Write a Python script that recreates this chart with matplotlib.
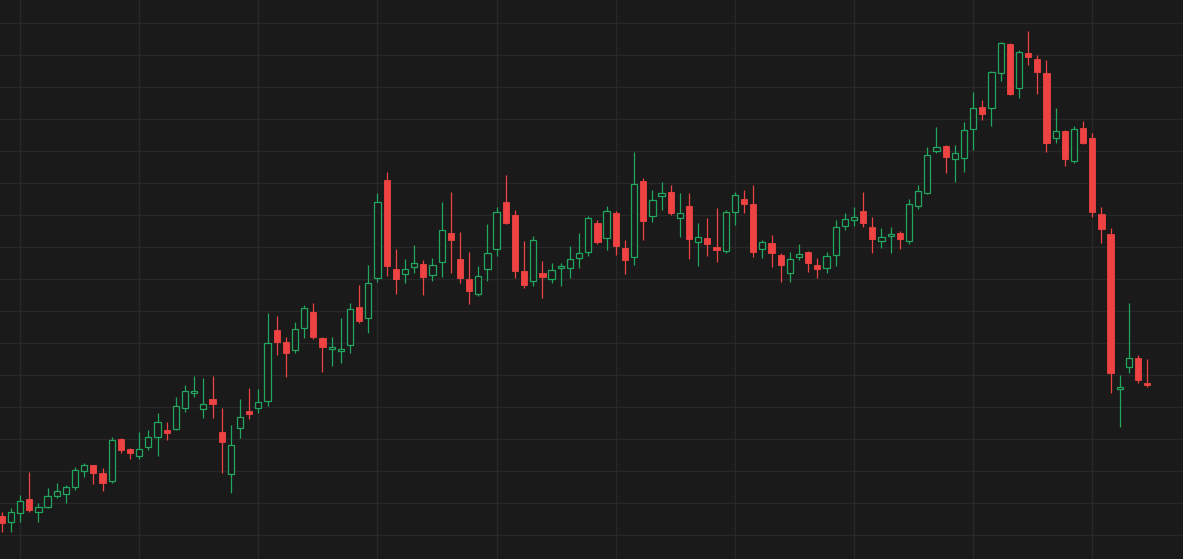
import numpy as np
import matplotlib.pyplot as plt

# OHLC per session (one candle each)
opens = [51, 45, 54, 68, 55, 60, 71, 73, 80, 96, 102, 94, 86, 128, 118, 111, 120, 130, 137, 138,
         159, 174, 158, 168, 135, 93, 139, 156, 159, 166, 237, 225, 217, 239, 255, 229, 218, 216, 222, 260,
         249, 289, 387, 298, 293, 300, 303, 292, 305, 334, 308, 288, 273, 298, 318, 365, 352, 296, 286, 294,
         288, 299, 299, 309, 315, 344, 329, 354, 319, 310, 386, 351, 371, 375, 349, 361, 325, 329, 320, 316,
         355, 368, 363, 318, 324, 312, 294, 310, 315, 302, 299, 312, 341, 347, 356, 340, 326, 331, 334, 326,
         361, 374, 416, 421, 408, 409, 438, 460, 459, 494, 523, 479, 514, 508, 494, 429, 436, 406, 439, 429,
         353, 333, 178, 200, 209, 184]
highs = [55, 59, 72, 95, 64, 79, 84, 82, 100, 104, 102, 99, 130, 129, 119, 135, 137, 154, 145, 170,
         182, 191, 189, 191, 159, 142, 168, 179, 178, 254, 251, 230, 245, 262, 264, 230, 230, 249, 264, 282,
         302, 374, 395, 318, 308, 322, 307, 309, 365, 375, 335, 315, 301, 343, 360, 392, 357, 326, 331, 306,
         304, 304, 321, 334, 351, 347, 361, 356, 327, 415, 389, 377, 385, 382, 374, 374, 344, 349, 359, 357,
         375, 377, 382, 327, 332, 314, 315, 323, 316, 309, 315, 347, 354, 360, 375, 350, 339, 340, 336, 368,
         382, 420, 440, 422, 422, 445, 475, 467, 496, 525, 524, 517, 536, 512, 507, 459, 437, 441, 446, 434,
         360, 339, 192, 264, 212, 208]
lows = [35, 35, 45, 55, 45, 59, 69, 64, 77, 90, 83, 76, 84, 114, 108, 108, 117, 111, 127, 137,
        155, 170, 149, 149, 94, 74, 129, 148, 154, 161, 212, 190, 214, 229, 228, 195, 201, 204, 214, 244,
        234, 285, 291, 273, 284, 294, 272, 286, 290, 294, 284, 263, 271, 286, 311, 343, 289, 279, 281, 269,
        284, 281, 289, 299, 311, 323, 317, 312, 293, 302, 327, 345, 357, 352, 330, 308, 301, 311, 305, 314,
        342, 354, 310, 309, 300, 285, 285, 307, 295, 289, 294, 301, 337, 341, 340, 314, 319, 314, 318, 323,
        358, 373, 414, 394, 385, 395, 417, 447, 441, 486, 472, 469, 502, 473, 415, 424, 401, 404, 423, 350,
        324, 174, 140, 194, 184, 180]
closes = [44, 55, 66, 57, 60, 71, 76, 80, 97, 102, 94, 84, 127, 117, 114, 118, 130, 145, 134, 161,
          176, 176, 163, 163, 125, 122, 150, 153, 165, 224, 225, 214, 238, 259, 230, 220, 220, 218, 258, 246,
          284, 365, 301, 288, 298, 304, 290, 302, 337, 327, 289, 276, 291, 314, 355, 344, 296, 282, 327, 290,
          297, 301, 308, 314, 349, 325, 356, 321, 307, 383, 346, 367, 374, 354, 354, 328, 330, 323, 317, 355,
          372, 363, 315, 325, 314, 302, 308, 313, 304, 298, 311, 340, 348, 350, 344, 328, 330, 333, 328, 363,
          376, 412, 420, 410, 414, 437, 459, 453, 495, 524, 473, 515, 510, 495, 424, 436, 408, 438, 424, 355,
          338, 194, 180, 209, 187, 182]

BG = '#1a1a1a'
GRID = '#282828'
UP = '#22a55e'
DOWN = '#ef4343'

o = np.array(opens, dtype=float)
h = np.array(highs, dtype=float)
l = np.array(lows, dtype=float)
c = np.array(closes, dtype=float)
x = np.arange(len(o))
up = c >= o

fig = plt.figure(figsize=(11.83, 5.59), dpi=100, facecolor=BG)
ax = fig.add_axes([0, 0, 1, 1], facecolor=BG)

# grid
ax.set_xticks(np.arange(2, len(o), 13))
ax.set_yticks(np.arange(32, 567, 32))
ax.grid(True, color=GRID, linewidth=1.0)
ax.set_axisbelow(True)
ax.tick_params(length=0, labelbottom=False, labelleft=False)
for s in ax.spines.values():
    s.set_visible(False)

# wicks
ax.vlines(x[up], l[up], h[up], color=UP, linewidth=0.9, zorder=2)
ax.vlines(x[~up], l[~up], h[~up], color=DOWN, linewidth=0.9, zorder=2)

# bodies: hollow green, filled red
w = 0.68
body_up = np.maximum(c[up] - o[up], 1.5)
body_dn = np.maximum(o[~up] - c[~up], 1.5)
ax.bar(x[up], body_up, bottom=o[up], width=w, facecolor=BG, edgecolor=UP,
       linewidth=0.9, zorder=3)
ax.bar(x[~up], -body_dn, bottom=o[~up], width=w, facecolor=DOWN, edgecolor=DOWN,
       linewidth=0.6, zorder=3)

ax.set_xlim(-0.19, 128.9)
ax.set_ylim(8, 567)

fig.savefig('out.png', dpi=100, facecolor=BG)
